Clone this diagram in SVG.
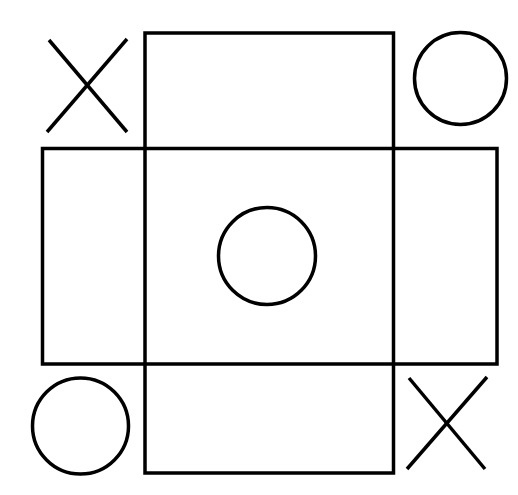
<svg xmlns="http://www.w3.org/2000/svg" width="518" height="495" viewBox="0 0 518 495">
<style>
.s{fill:none;stroke:#000;stroke-width:3.5}
</style>
<rect width="518" height="495" fill="#fff"/>
<g id="board">
<rect class="s" x="145" y="33" width="248.5" height="440"/>
<rect class="s" x="42.5" y="148.5" width="454.5" height="215.5"/>
</g>
<g id="x-top-left">
<line class="s" x1="49" y1="40" x2="127" y2="132"/>
<line class="s" x1="127" y1="39" x2="47" y2="132"/>
</g>
<g id="o-top-right">
<circle class="s" cx="460.5" cy="78.5" r="46"/>
</g>
<g id="o-center">
<circle class="s" cx="267" cy="256" r="48.5"/>
</g>
<g id="o-bottom-left">
<circle class="s" cx="80.5" cy="426" r="48"/>
</g>
<g id="x-bottom-right">
<line class="s" x1="409" y1="378" x2="485" y2="469"/>
<line class="s" x1="487" y1="377" x2="407" y2="469"/>
</g>
</svg>
